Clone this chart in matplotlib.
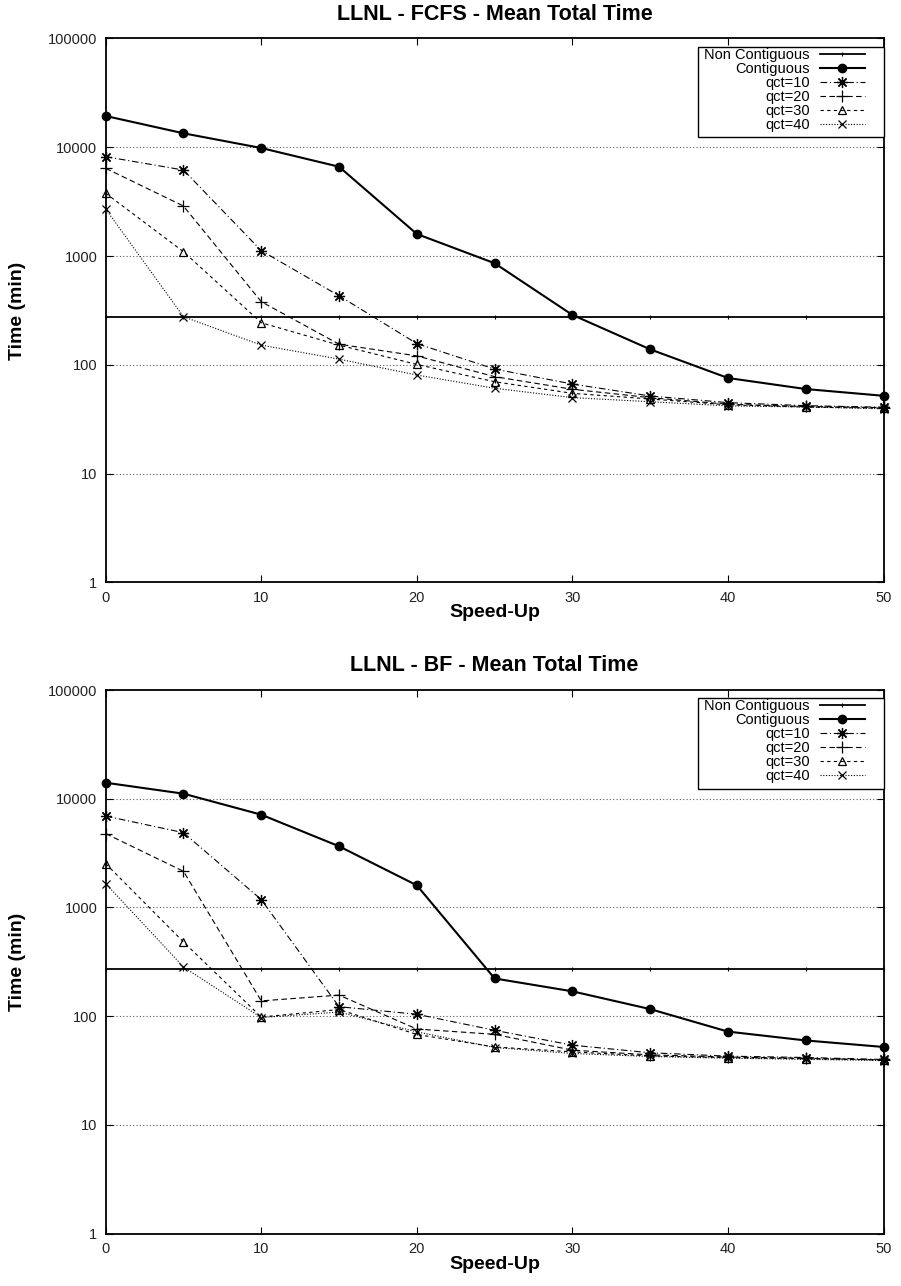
import matplotlib
matplotlib.use("Agg")
import matplotlib.pyplot as plt
from matplotlib.patches import Rectangle
import numpy as np

plt.rcParams['font.family'] = ['Liberation Sans', 'DejaVu Sans']

speedup = [0, 5, 10, 15, 20, 25, 30, 35, 40, 45, 50]

# LLNL - FCFS
fcfs_noncontig = [275] * 11
fcfs_contig = [19400, 13450, 9850, 6630, 1597, 860, 288, 139, 75.8, 60, 52]
fcfs_qct10 = [8200, 6180, 1122, 432, 157, 91.6, 66.7, 51.8, 45, 42.2, 40.8]
fcfs_qct20 = [6410, 2885, 381, 155, 121, 78, 59.7, 50, 43.5, 41.5, 40.5]
fcfs_qct30 = [3780, 1097, 244, 152, 101, 70, 54.8, 48.6, 43, 41, 40]
fcfs_qct40 = [2710, 277, 152, 113, 80.7, 61, 50, 45.9, 42, 41, 39.5]

# LLNL - BF
bf_noncontig = [273] * 11
bf_contig = [14030, 11120, 7130, 3650, 1597, 222, 169, 116, 72, 59.7, 52]
bf_qct10 = [6920, 4870, 1180, 122, 104, 74, 54, 46, 42.8, 41.6, 39.9]
bf_qct20 = [4770, 2148, 138, 156, 76, 68, 48.6, 44, 42, 41, 39.5]
bf_qct30 = [2525, 481, 98, 115, 67.8, 52, 46.9, 43, 41.5, 40.5, 39.5]
bf_qct40 = [1656, 283, 97, 109, 71.6, 51.4, 45.3, 42.5, 41, 40, 39]

labels = ["Non Contiguous", "Contiguous", "qct=10", "qct=20", "qct=30", "qct=40"]
titles = ["LLNL - FCFS - Mean Total Time", "LLNL - BF - Mean Total Time"]
yticks = [1, 10, 100, 1000, 10000, 100000]
ytick_labels = ["1", "10", "100", "1000", "10000", "100000"]
xticks = [0, 10, 20, 30, 40, 50]

W, H = 901, 1286
AX_L, AX_R = 105.7, 883.5
fig = plt.figure(figsize=(W / 100, H / 100), dpi=100)

def frac_box(left, top, right, bottom):
    return [left / W, 1 - bottom / H, (right - left) / W, (bottom - top) / H]

panels = [
    (frac_box(AX_L, 38.5, AX_R, 582.5),
     [fcfs_noncontig, fcfs_contig, fcfs_qct10, fcfs_qct20, fcfs_qct30, fcfs_qct40], 0.0),
    (frac_box(AX_L, 690, AX_R, 1233.5),
     [bf_noncontig, bf_contig, bf_qct10, bf_qct20, bf_qct30, bf_qct40], 651.5),
]

styles = [
    dict(color='black', lw=1.3, ls='-', marker='|', ms=3, mew=0.8),
    dict(color='black', lw=1.5, ls='-', marker='o', ms=6),
    dict(color='black', lw=0.8, ls=(0, (6, 2.5, 1, 2.5)), marker=(8, 2, 0), ms=8, mew=0.9),
    dict(color='black', lw=0.8, ls=(0, (5, 3)), marker='+', ms=8, mew=0.9),
    dict(color='black', lw=0.8, ls=(0, (3, 3)), marker='^', ms=6, mfc='none', mew=0.9),
    dict(color='black', lw=0.8, ls=(0, (1, 1.5)), marker='x', ms=6, mew=0.9),
]

ax_w = AX_R - AX_L
ax_h = 544.0

for (box, series, off), title in zip(panels, titles):
    ax = fig.add_axes(box)
    ax.set_yscale('log')
    ax.set_xlim(0, 50)
    ax.set_ylim(1, 100000)
    for ys, lab, st in zip(series, labels, styles):
        ax.plot(speedup, ys, label=lab, clip_on=False, zorder=3, **st)
    ax.set_yticks(yticks)
    ax.set_yticklabels(ytick_labels)
    ax.yaxis.set_minor_locator(matplotlib.ticker.NullLocator())
    ax.set_xticks(xticks)
    ax.set_xticklabels([str(v) for v in xticks])
    ax.tick_params(direction='in', length=5, width=0.8, top=True, right=True,
                   labelsize=10.5, pad=6, colors='black', labelcolor='#222222')
    for yv in yticks[1:-1]:
        ax.axhline(yv, color='0.35', lw=0.8, ls=(0, (1, 2)), zorder=1)
    for sp in ax.spines.values():
        sp.set_linewidth(1.3)
    # legend (gnuplot-style key: right-aligned text, sample on the right)
    leg = ax.legend(loc='upper right',
                    bbox_to_anchor=((865 - AX_L) / ax_w, 1 - (48 - 38.5) / ax_h),
                    borderaxespad=0, markerfirst=False, fontsize=10.5,
                    frameon=False, handlelength=3.1, labelspacing=0.0,
                    handletextpad=0.7, borderpad=0.0)
    leg.set_zorder(6)
    ax.add_patch(Rectangle(((698 - AX_L) / ax_w, 1 - (137.5 - 38.5) / ax_h),
                           1 - (698 - AX_L) / ax_w, (137.5 - 46.7) / ax_h,
                           transform=ax.transAxes, facecolor='white',
                           edgecolor='black', lw=1.0, zorder=5, clip_on=False))
    fig.text((AX_L + AX_R) / 2 / W, 1 - (14 + off) / H, title, ha='center', va='center',
             fontsize=15.5, fontweight='bold')
    fig.text((AX_L + AX_R) / 2 / W, 1 - (613 + off) / H, "Speed-Up", ha='center',
             va='center', fontsize=14, fontweight='bold')
    fig.text(18 / W, 1 - (310.5 + off) / H, "Time (min)", ha='center', va='center',
             rotation=90, fontsize=14, fontweight='bold')

fig.savefig("out.png", dpi=100)
